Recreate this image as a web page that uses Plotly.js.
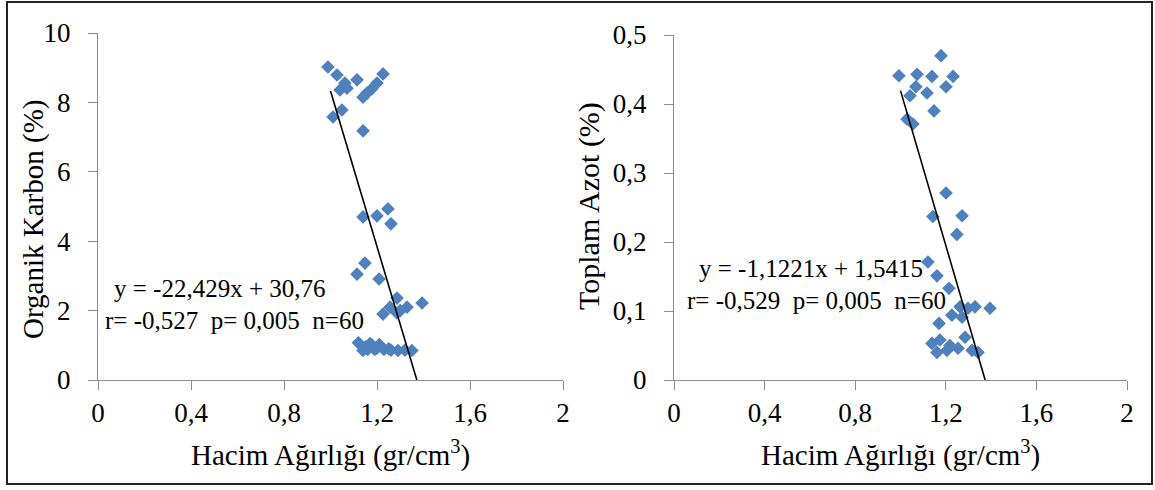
<!DOCTYPE html>
<html>
<head>
<meta charset="utf-8">
<script src="https://cdn.plot.ly/plotly-3.0.1.min.js"></script>
<style>html,body{margin:0;padding:0;background:#fff;}#chart{width:1155px;height:490px;}</style>
</head>
<body>
<div id="chart"></div>
<script>
// Left panel: Hacim Ağırlığı vs Organik Karbon
const ocX = [0.989,1.028,1.114,1.226,1.062,1.041,1.071,1.157,1.178,1.200,1.140,1.049,1.011,1.140,
             1.140,1.200,1.247,1.260,1.148,1.114,1.209,1.286,1.394,1.329,1.256,1.226,1.286,1.300,
             1.120,1.150,1.170,1.190,1.210,1.230,1.260,1.290,1.320,1.350,1.140,1.180,1.250,1.160,1.200];
const ocY = [9.02,8.79,8.65,8.82,8.56,8.36,8.41,8.27,8.39,8.56,8.15,7.78,7.58,7.18,
             4.70,4.73,4.93,4.50,3.37,3.05,2.91,2.36,2.22,2.10,2.10,1.90,1.93,2.00,
             1.07,0.95,1.05,0.88,1.02,0.88,0.86,0.85,0.86,0.85,0.85,1.00,0.90,0.88,0.92];
// Right panel: Hacim Ağırlığı vs Toplam Azot
const taX = [1.179,0.993,1.073,1.139,1.232,1.201,1.068,1.042,1.117,1.148,1.029,1.055,
             1.201,1.143,1.272,1.249,1.121,1.161,1.214,1.263,1.329,1.395,1.298,1.227,1.272,1.170,1.285,
             1.139,1.174,1.218,1.161,1.205,1.254,1.316,1.342];
const taY = [0.470,0.441,0.443,0.440,0.440,0.425,0.425,0.412,0.416,0.390,0.378,0.371,
             0.271,0.237,0.238,0.211,0.171,0.151,0.133,0.106,0.106,0.104,0.104,0.094,0.091,0.082,0.062,
             0.053,0.058,0.050,0.040,0.043,0.046,0.043,0.040];
// Trend line coefficients (from the chart's equations) and the x-span of each line
const ocSlope = -22.429, ocIntercept = 30.76;
const taSlope = -1.1221, taIntercept = 1.5415;
const ocLineX = [1.0, 1.3714];
const taLineX = [1.0, 1.3738];

const xTicks = [0, 0.4, 0.8, 1.2, 1.6, 2];
const xTickText = ["0", "0,4", "0,8", "1,2", "1,6", "2"];
const ocTicks = [0, 2, 4, 6, 8, 10];
const taTicks = [0, 0.1, 0.2, 0.3, 0.4, 0.5];
const taTickText = ["0", "0,1", "0,2", "0,3", "0,4", "0,5"];

const blue = "#4F81BD";
const font = "Liberation Serif, Times New Roman, serif";
const W = 1155, H = 490;
const px = v => v / W, py = v => (H - v) / H;

const traces = [
  {x: ocX, y: ocY, type: "scatter", mode: "markers", xaxis: "x", yaxis: "y",
   marker: {symbol: "diamond", size: 10.5, color: blue}},
  {x: ocLineX, y: ocLineX.map(v => ocSlope * v + ocIntercept), type: "scatter", mode: "lines",
   xaxis: "x", yaxis: "y", line: {color: "#000", width: 1.6}},
  {x: taX, y: taY, type: "scatter", mode: "markers", xaxis: "x2", yaxis: "y2",
   marker: {symbol: "diamond", size: 10.5, color: blue}},
  {x: taLineX, y: taLineX.map(v => taSlope * v + taIntercept), type: "scatter", mode: "lines",
   xaxis: "x2", yaxis: "y2", line: {color: "#000", width: 1.6}}
];

const axCommon = {
  showgrid: false, zeroline: false, showline: true, linecolor: "#8c8c8c", linewidth: 1,
  ticks: "outside", ticklen: 9, tickcolor: "#8c8c8c", tickwidth: 1,
  tickfont: {family: font, size: 27, color: "#000"}, fixedrange: true
};

const layout = {
  width: W, height: H, margin: {l: 0, r: 0, t: 0, b: 0},
  paper_bgcolor: "#fff", plot_bgcolor: "#fff", showlegend: false,
  xaxis: Object.assign({}, axCommon, {domain: [px(98), px(563)], range: [0, 2],
    tickvals: xTicks, ticktext: xTickText, anchor: "y", ticklabelstandoff: 0}),
  yaxis: Object.assign({}, axCommon, {domain: [py(380), py(33)], range: [0, 10],
    tickvals: ocTicks, anchor: "x", ticklabelstandoff: 12}),
  xaxis2: Object.assign({}, axCommon, {domain: [px(674), px(1127)], range: [0, 2],
    tickvals: xTicks, ticktext: xTickText, anchor: "y2", ticklabelstandoff: 0}),
  yaxis2: Object.assign({}, axCommon, {domain: [py(380), py(35)], range: [0, 0.5],
    tickvals: taTicks, ticktext: taTickText, anchor: "x2", ticklabelstandoff: 12}),
  shapes: [
    {type: "rect", xref: "paper", yref: "paper", x0: px(7), x1: px(1152), y0: py(484), y1: py(2),
     line: {color: "#222", width: 2}, fillcolor: "rgba(0,0,0,0)"}
  ],
  annotations: [
    {text: "Organik Karbon (%)", xref: "paper", yref: "paper", x: px(33), y: py(220),
     textangle: -90, showarrow: false, xanchor: "center", yanchor: "middle",
     font: {family: font, size: 29, color: "#000"}},
    {text: "Toplam Azot (%)", xref: "paper", yref: "paper", x: px(589), y: py(206),
     textangle: -90, showarrow: false, xanchor: "center", yanchor: "middle",
     font: {family: font, size: 30, color: "#000"}},
    {text: "Hacim Ağırlığı (gr/cm<sup>3</sup>)", xref: "paper", yref: "paper", x: px(330), y: py(453),
     showarrow: false, xanchor: "center", yanchor: "middle",
     font: {family: font, size: 29, color: "#000"}},
    {text: "Hacim Ağırlığı (gr/cm<sup>3</sup>)", xref: "paper", yref: "paper", x: px(900), y: py(453),
     showarrow: false, xanchor: "center", yanchor: "middle",
     font: {family: font, size: 29, color: "#000"}},
    {text: "y = -22,429x + 30,76", xref: "paper", yref: "paper", x: px(220), y: py(288),
     showarrow: false, xanchor: "center", yanchor: "middle",
     font: {family: font, size: 25, color: "#000"}},
    {text: "r= -0,527\u00a0\u00a0p= 0,005\u00a0\u00a0n=60", xref: "paper", yref: "paper", x: px(234), y: py(320),
     showarrow: false, xanchor: "center", yanchor: "middle",
     font: {family: font, size: 25, color: "#000"}},
    {text: "y = -1,1221x + 1,5415", xref: "paper", yref: "paper", x: px(811), y: py(268),
     showarrow: false, xanchor: "center", yanchor: "middle",
     font: {family: font, size: 25, color: "#000"}},
    {text: "r= -0,529\u00a0\u00a0p= 0,005\u00a0\u00a0n=60", xref: "paper", yref: "paper", x: px(816), y: py(300),
     showarrow: false, xanchor: "center", yanchor: "middle",
     font: {family: font, size: 25, color: "#000"}}
  ]
};

Plotly.newPlot("chart", traces, layout, {displayModeBar: false, staticPlot: true});
</script>
</body>
</html>
